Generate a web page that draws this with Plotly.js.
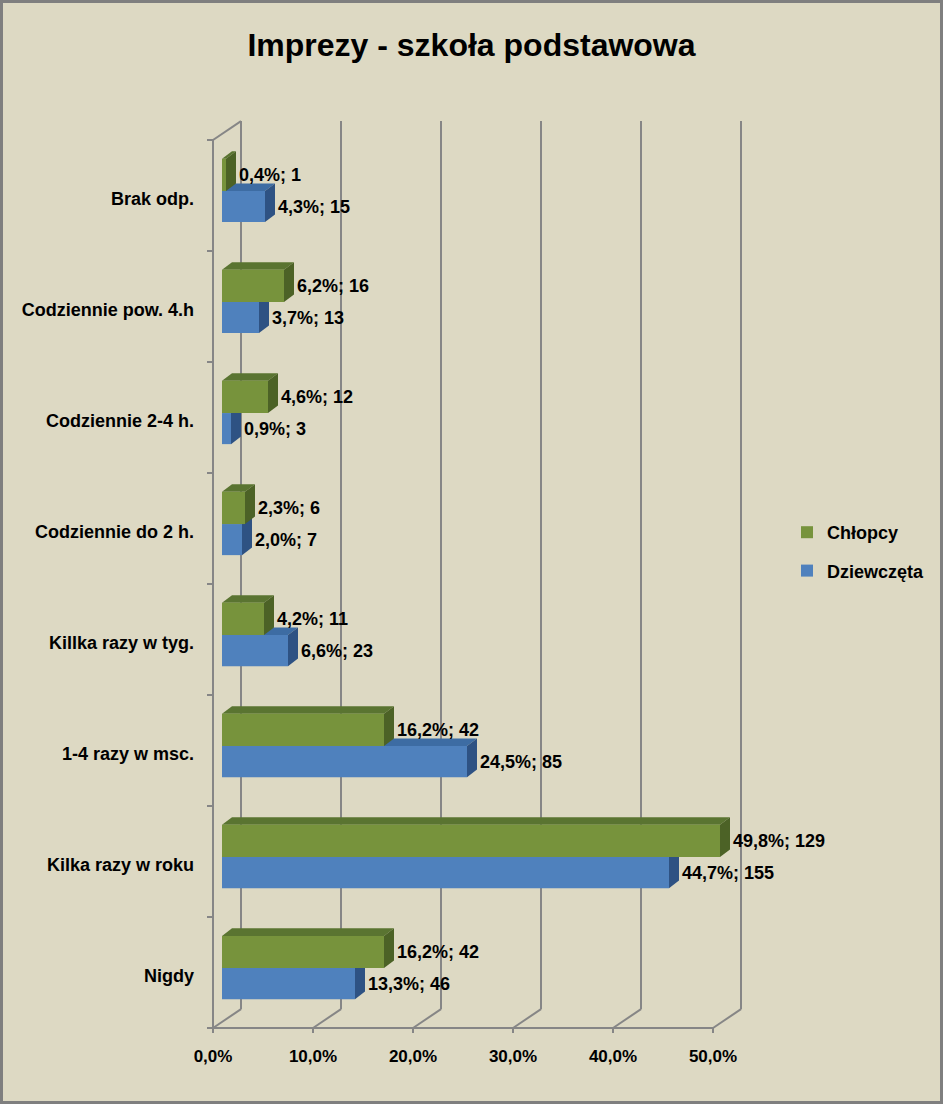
<!DOCTYPE html>
<html><head><meta charset="utf-8">
<script src="https://cdn.plot.ly/plotly-3.0.1.min.js"></script>
<style>
html,body{margin:0;padding:0;background:#ddd9c3}
#wrap{position:relative;width:943px;height:1104px}
#chart{width:943px;height:1104px}
#frame{position:absolute;left:0;top:0;width:943px;height:1104px;box-sizing:border-box;border:3px solid #7f7f7f;pointer-events:none}
</style>
</head><body><div id="wrap"><div id="chart"></div><div id="frame"></div></div>
<script>
// ---- data ----
const categories = ['Nigdy','Kilka razy w roku','1-4 razy w msc.','Killka razy w tyg.','Codziennie do 2 h.','Codziennie 2-4 h.','Codziennie pow. 4.h','Brak odp.'];
const chlopcyPct = [16.2,49.8,16.2,4.2,2.3,4.6,6.2,0.4];
const chlopcyN = [42,129,42,11,6,12,16,1];
const dziewczetaPct = [13.3,44.7,24.5,6.6,2.0,0.9,3.7,4.3];
const dziewczetaN = [46,155,85,23,7,3,13,15];
const xTicks = [0,10,20,30,40,50];
const xTickText = ['0,0%','10,0%','20,0%','30,0%','40,0%','50,0%'];

// ---- style ----
const FONT = 'Liberation Sans, Arial, sans-serif';
const GRID = '#868686';
const series = [
  {name:'Dziewczęta', pct:dziewczetaPct, n:dziewczetaN, front:'#4f81bd', top:'#3d6ca3', side:'#2e5283', offset:-0.24, width:0.28, rank:2},
  {name:'Chłopcy', pct:chlopcyPct, n:chlopcyN, front:'#77933c', top:'#5a7431', side:'#4c6226', offset:0.04, width:0.29, rank:1}
];
const DX = 1.0, DY = 0.068;          // bar depth (x units / category units)
const FX = -0.9, BX = 1.9, BY = 0.17; // front and back plane offsets
const yLo = -0.5, yHi = categories.length - 0.5;

const fmt = v => v.toFixed(1).replace('.', ',') + '%';

const traces = series.map(s => ({
  type:'bar', orientation:'h', name:s.name,
  y:categories, x:s.pct,
  width:s.width, offset:s.offset,
  marker:{color:s.front, line:{width:0}},
  hoverinfo:'skip', legendgroup:s.name, legendrank:s.rank
}));

const shapes = [];
const line = (x0,y0,x1,y1,layer) => shapes.push({type:'line', xref:'x', yref:'y', x0, y0, x1, y1, layer:layer||'below', line:{color:GRID, width:2}});
// back wall gridlines
xTicks.forEach(t => line(t+BX, yLo+BY, t+BX, yHi+BY));
// floor diagonals + front ticks
xTicks.forEach(t => {
  line(t+FX, yLo, t+BX, yLo+BY);
  line(t+FX, yLo, t+FX, yLo-0.045);
});
// front floor line
line(FX-0.5, yLo, xTicks[xTicks.length-1]+FX, yLo);
// left axis line and boundary ticks
line(FX, yLo, FX, yHi);
categories.concat(['']).forEach((c,k) => line(FX-0.6, k-0.5, FX, k-0.5));
// top-left diagonal
line(FX, yHi, BX, yHi+BY);

// bar depth faces + value labels
const annotations = [];
series.forEach(s => {
  s.pct.forEach((v,i) => {
    const yb = i + s.offset, yt = i + s.offset + s.width;
    shapes.push({type:'path', xref:'x', yref:'y', layer:'between', line:{width:0}, fillcolor:s.top,
      path:`M 0,${yt} L ${v},${yt} L ${v+DX},${yt+DY} L ${DX},${yt+DY} Z`});
    shapes.push({type:'path', xref:'x', yref:'y', layer:'between', line:{width:0}, fillcolor:s.side,
      path:`M ${v},${yb} L ${v+DX},${yb+DY} L ${v+DX},${yt+DY} L ${v},${yt} Z`});
    annotations.push({xref:'x', yref:'y', x:v, y:yb + s.width/2, text:fmt(v) + '; ' + s.n[i],
      showarrow:false, xanchor:'left', yanchor:'middle', xshift:11,
      font:{family:FONT, size:18, color:'#000', weight:'bold'}});
  });
});

const layout = {
  width:943, height:1104,
  paper_bgcolor:'#ddd9c3', plot_bgcolor:'rgba(0,0,0,0)',
  margin:{l:205, r:193, t:115, b:64},
  title:{text:'Imprezy - szkoła podstawowa', x:0.5, xanchor:'center', y:1-45/1104, yanchor:'middle', yref:'container',
    font:{family:FONT, size:32, color:'#000', weight:'bold'}},
  barmode:'overlay',
  showlegend:true,
  legend:{xref:'container', yref:'container', x:787/943, y:1-514/1104, xanchor:'left', yanchor:'top',
    traceorder:'grouped', tracegroupgap:12, bgcolor:'rgba(0,0,0,0)',
    font:{family:FONT, size:18, color:'#000', weight:'bold'}},
  xaxis:{range:[-1.7, 52.8], tickvals:xTicks, ticktext:xTickText, showgrid:false, zeroline:false, showline:false,
    ticks:'', ticklabelshift:-9, ticklabelstandoff:4, fixedrange:true,
    tickfont:{family:FONT, size:17, color:'#000', weight:'bold'}},
  yaxis:{type:'category', categoryorder:'array', categoryarray:categories, range:[-0.608, 7.725],
    showgrid:false, zeroline:false, showline:false, ticks:'', ticklabelstandoff:10, ticklabelshift:3, fixedrange:true,
    tickfont:{family:FONT, size:18, color:'#000', weight:'bold'}},
  shapes, annotations
};

Plotly.newPlot('chart', traces, layout, {displayModeBar:false, staticPlot:true});
</script>
</body></html>
